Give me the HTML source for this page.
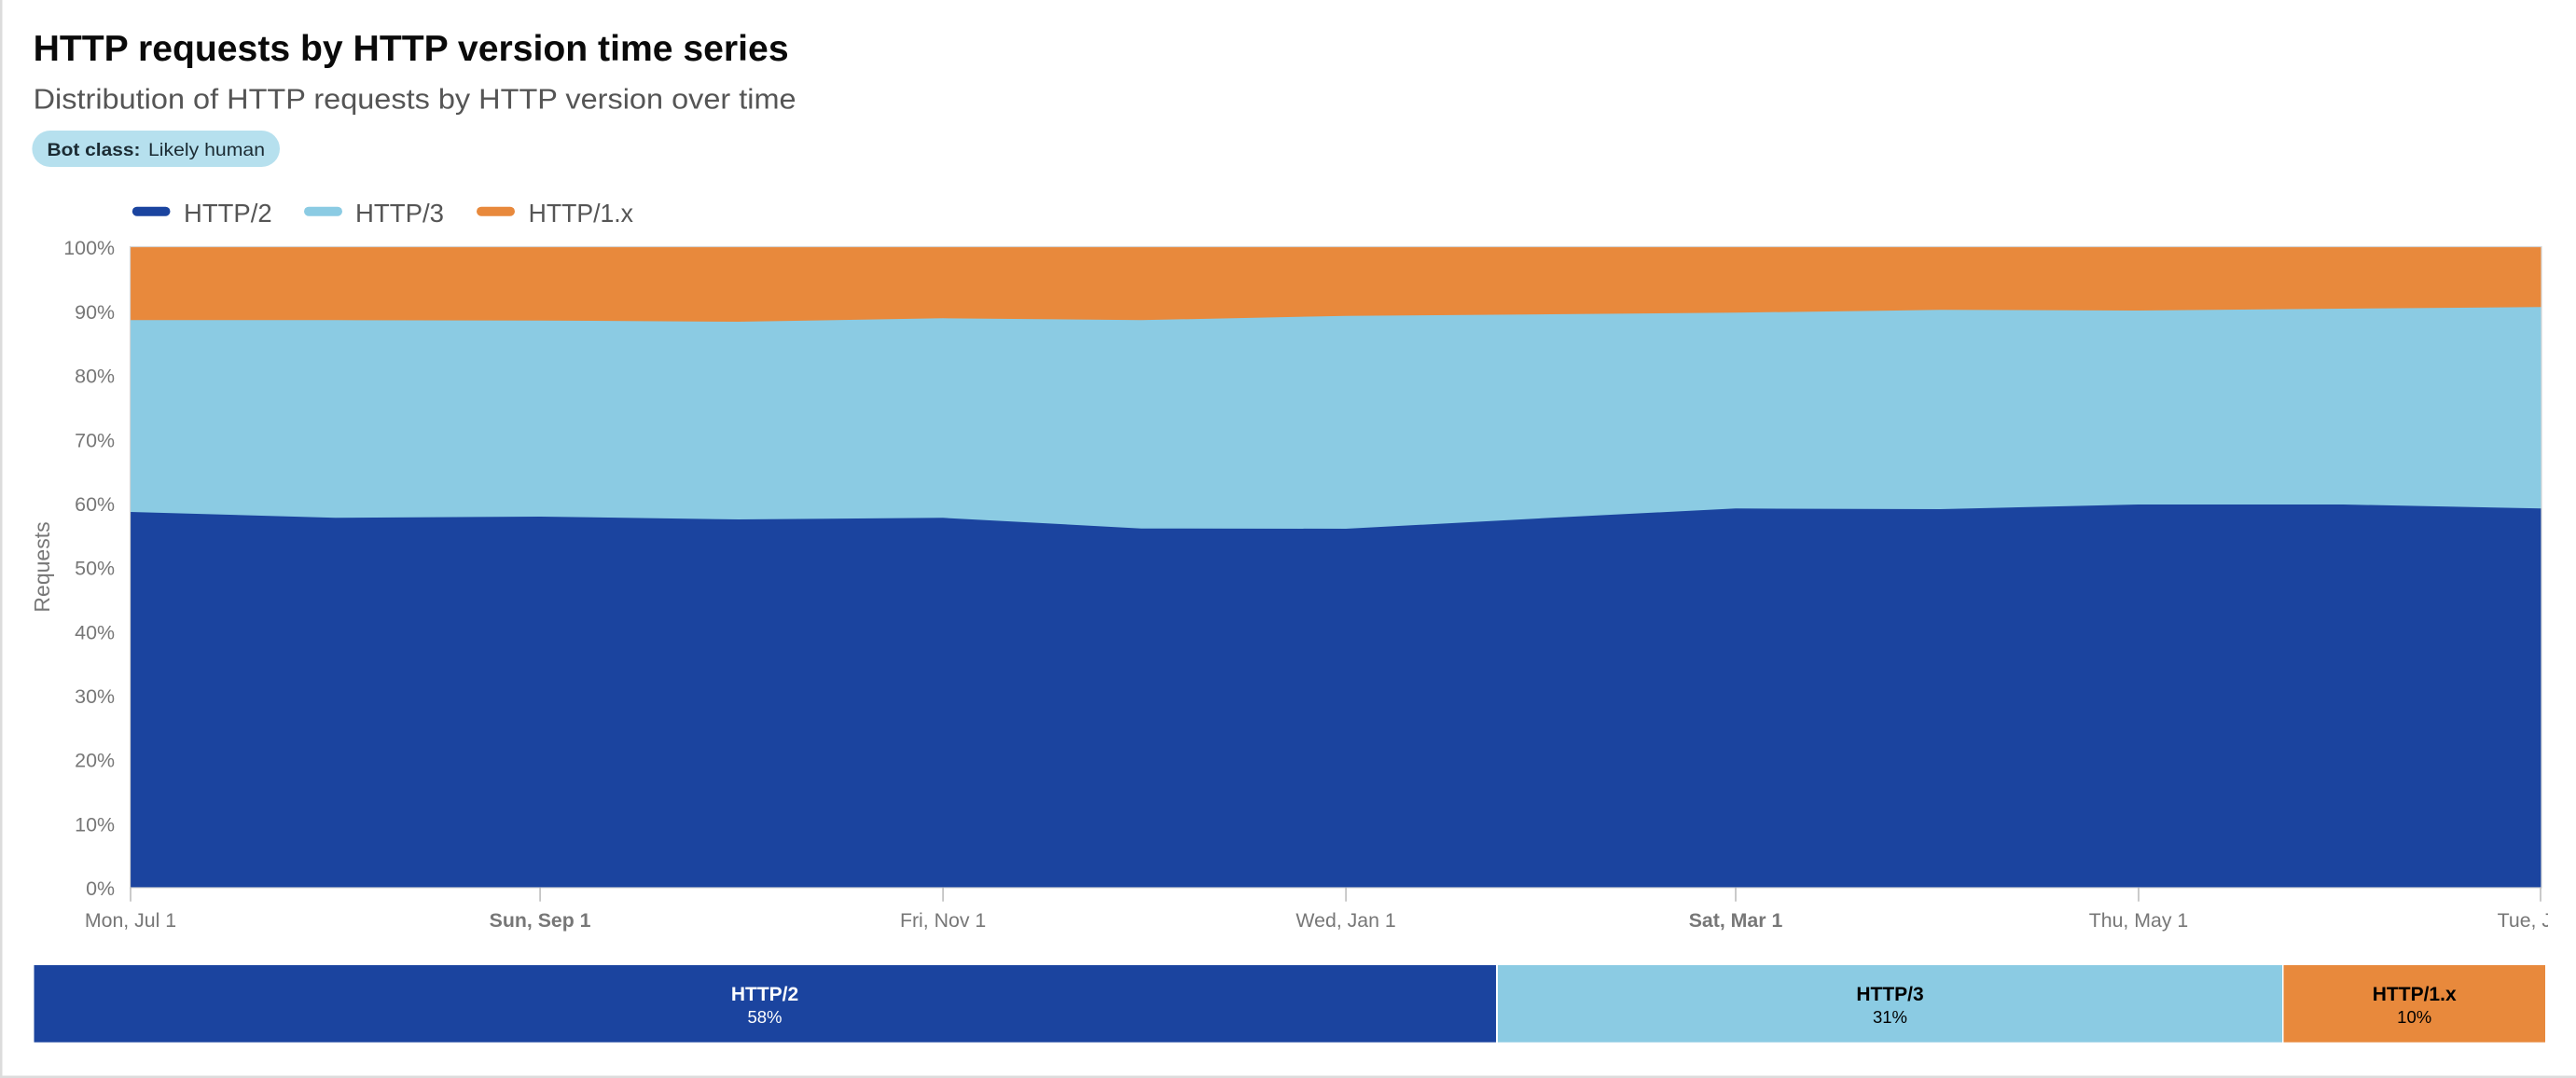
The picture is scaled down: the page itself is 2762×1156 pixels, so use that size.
<!DOCTYPE html>
<html>
<head>
<meta charset="utf-8">
<style>
  html, body { margin: 0; padding: 0; background: #ffffff; }
  svg { display: block; }
  text { font-family: "Liberation Sans", Arial, sans-serif; }
</style>
</head>
<body>
<svg width="2762" height="1156" viewBox="0 0 2762 1156" xmlns="http://www.w3.org/2000/svg">
  <defs>
    <clipPath id="xclip"><rect x="0" y="960" width="2732" height="60"/></clipPath>
  </defs>
  <rect x="0" y="0" width="2762" height="1156" fill="#ffffff"/>
  <!-- card border -->
  <rect x="0" y="0" width="2.5" height="1156" fill="#dcdcdc"/>
  <rect x="0" y="1153.5" width="2762" height="2.5" fill="#dcdcdc"/>

  <!-- Title / subtitle -->
  <text x="35.6" y="65" font-size="39" font-weight="bold" fill="#0a0a0a" textLength="810" lengthAdjust="spacingAndGlyphs">HTTP requests by HTTP version time series</text>
  <text x="35.6" y="116.7" font-size="31" fill="#555555" textLength="818" lengthAdjust="spacingAndGlyphs">Distribution of HTTP requests by HTTP version over time</text>

  <!-- Badge -->
  <rect x="34.4" y="140" width="265.6" height="39" rx="19.5" ry="19.5" fill="#b6e0ee"/>
  <text x="50.5" y="167" font-size="19.5" font-weight="bold" fill="#1b2b33" textLength="100" lengthAdjust="spacingAndGlyphs">Bot class:</text>
  <text x="159" y="167" font-size="19.5" fill="#1b2b33" textLength="125" lengthAdjust="spacingAndGlyphs">Likely human</text>

  <!-- Legend -->
  <rect x="141.8" y="221.7" width="40.7" height="10" rx="5" fill="#1b449f"/>
  <text x="197" y="238" font-size="27.5" fill="#555555" textLength="94.6" lengthAdjust="spacingAndGlyphs">HTTP/2</text>
  <rect x="326" y="221.7" width="41" height="10" rx="5" fill="#8bcbe3"/>
  <text x="381" y="238" font-size="27.5" fill="#555555" textLength="95" lengthAdjust="spacingAndGlyphs">HTTP/3</text>
  <rect x="511" y="221.7" width="41" height="10" rx="5" fill="#e8893c"/>
  <text x="566.6" y="238" font-size="27.5" fill="#555555" textLength="112.4" lengthAdjust="spacingAndGlyphs">HTTP/1.x</text>

  <!-- Y tick labels -->
  <g font-size="21.4" fill="#777777" text-anchor="end">
    <text x="123" y="273.2">100%</text>
    <text x="123" y="341.9">90%</text>
    <text x="123" y="410.6">80%</text>
    <text x="123" y="479.3">70%</text>
    <text x="123" y="547.9">60%</text>
    <text x="123" y="616.6">50%</text>
    <text x="123" y="685.3">40%</text>
    <text x="123" y="754.0">30%</text>
    <text x="123" y="822.7">20%</text>
    <text x="123" y="891.4">10%</text>
    <text x="123" y="960.0">0%</text>
  </g>
  <!-- Y axis title -->
  <text transform="translate(53,608) rotate(-90)" font-size="23" fill="#777777" text-anchor="middle">Requests</text>

  <!-- Plot areas -->
  <rect x="140" y="265" width="2584.5" height="686.7" fill="#e8893c"/>
  <path fill="#8bcbe3" d="M140,343.3 L359.5,343.3 L579.1,343.7 L791.6,345 L1011.1,341.3 L1223.6,343.3 L1443.1,338.7 L1662.7,337 L1861,335.3 L2080.5,332.3 L2293,333 L2512.5,331 L2724.5,329.3 L2724.5,951.7 L140,951.7 Z"/>
  <path fill="#1b449f" d="M140,549 L359.5,555.3 L579.1,554 L791.6,557 L1011.1,555.3 L1223.6,566.7 L1443.1,567 L1662.7,555.3 L1861,545.3 L2080.5,546 L2293,541 L2512.5,541 L2724.5,545.3 L2724.5,951.7 L140,951.7 Z"/>
  <rect x="139.5" y="264.5" width="2585.5" height="687.5" fill="none" stroke="#d6d6d6" stroke-width="1.2"/>

  <!-- X ticks -->
  <g stroke="#bdbdbd" stroke-width="1.6">
    <line x1="140" y1="951.7" x2="140" y2="966.7"/>
    <line x1="579.1" y1="951.7" x2="579.1" y2="966.7"/>
    <line x1="1011.1" y1="951.7" x2="1011.1" y2="966.7"/>
    <line x1="1443.1" y1="951.7" x2="1443.1" y2="966.7"/>
    <line x1="1861" y1="951.7" x2="1861" y2="966.7"/>
    <line x1="2293" y1="951.7" x2="2293" y2="966.7"/>
    <line x1="2724" y1="951.7" x2="2724" y2="966.7"/>
  </g>
  <!-- X labels -->
  <g font-size="21.3" fill="#777777" text-anchor="middle" clip-path="url(#xclip)">
    <text x="140" y="994">Mon, Jul 1</text>
    <text x="579.1" y="994" font-weight="bold">Sun, Sep 1</text>
    <text x="1011.1" y="994">Fri, Nov 1</text>
    <text x="1443.1" y="994">Wed, Jan 1</text>
    <text x="1861" y="994" font-weight="bold">Sat, Mar 1</text>
    <text x="2293" y="994">Thu, May 1</text>
    <text x="2724" y="994">Tue, Jul 1</text>
  </g>

  <!-- Summary bar -->
  <rect x="36.5" y="1035" width="1567.5" height="82.7" fill="#1b449f"/>
  <rect x="1606" y="1035" width="841" height="82.7" fill="#8bcbe3"/>
  <rect x="2448.5" y="1035" width="280.5" height="82.7" fill="#e8893c"/>

  <g text-anchor="middle">
    <text x="820" y="1073" font-size="21" font-weight="bold" fill="#ffffff">HTTP/2</text>
    <text x="820" y="1097" font-size="18.5" fill="#ffffff">58%</text>
    <text x="2026.5" y="1073" font-size="21" font-weight="bold" fill="#000000">HTTP/3</text>
    <text x="2026.5" y="1097" font-size="18.5" fill="#000000">31%</text>
    <text x="2588.7" y="1073" font-size="21" font-weight="bold" fill="#000000">HTTP/1.x</text>
    <text x="2588.7" y="1097" font-size="18.5" fill="#000000">10%</text>
  </g>
</svg>
</body>
</html>
